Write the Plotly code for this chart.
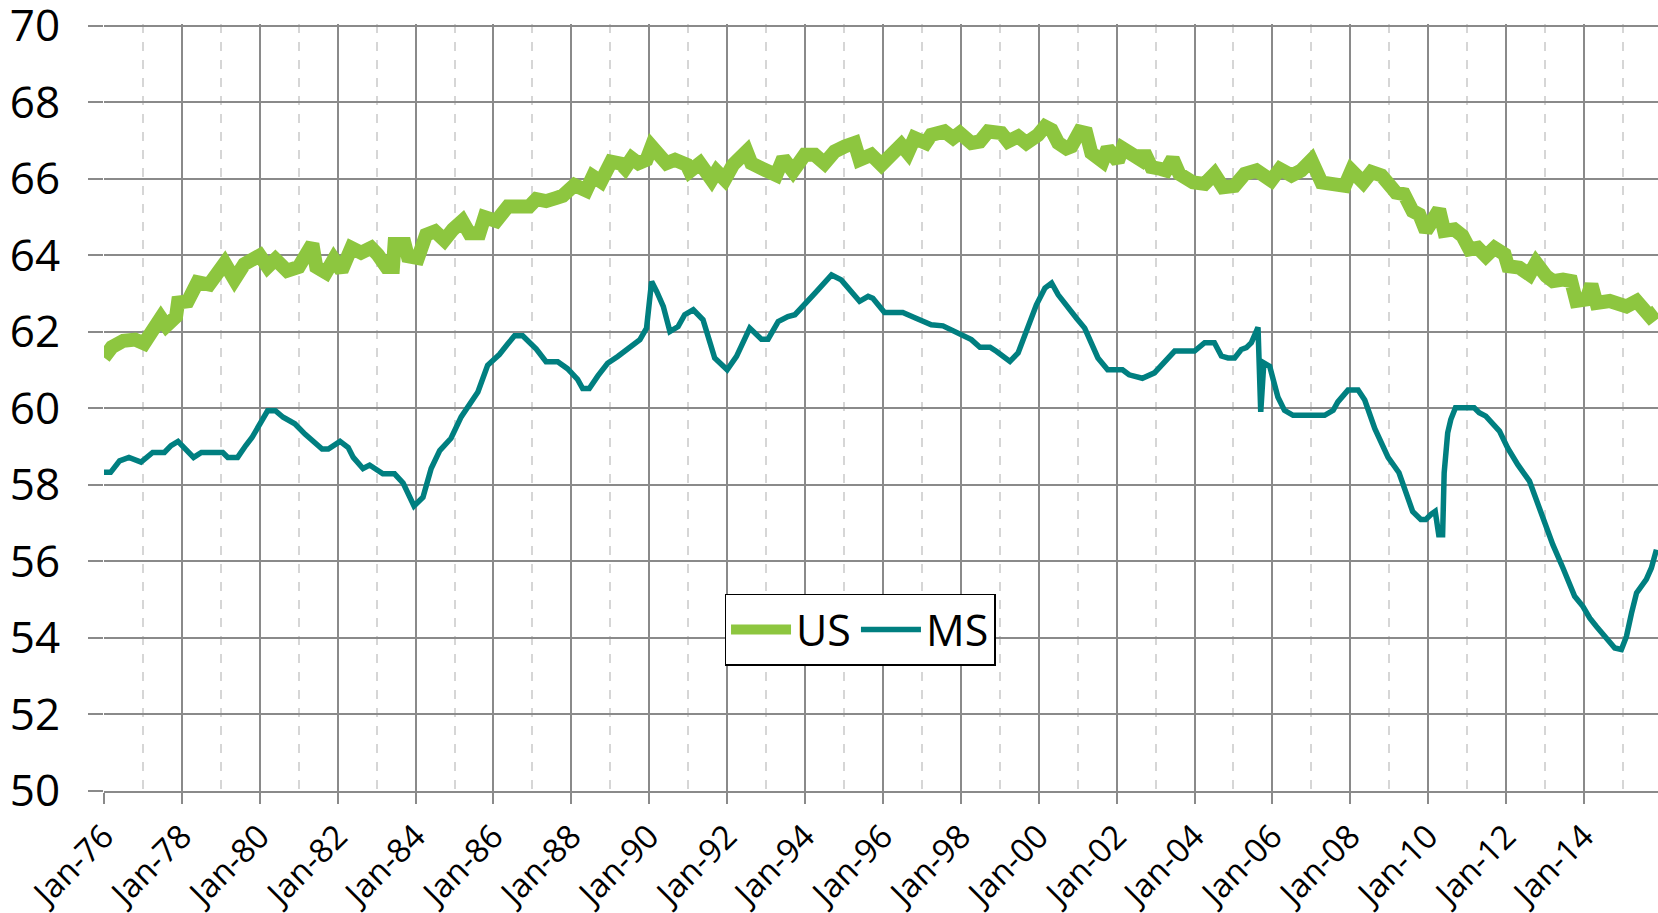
import plotly.graph_objects as go

# ---- data (decimal years) ----
us_years = [1976.0, 1976.2, 1976.5, 1976.8, 1977.03, 1977.25, 1977.46, 1977.6, 1977.85, 1977.9,
            1978.15, 1978.4, 1978.7, 1979.1, 1979.35, 1979.6, 1980.0, 1980.2, 1980.4, 1980.7,
            1981.0, 1981.35, 1981.45, 1981.7, 1981.9, 1982.1, 1982.35, 1982.6, 1982.86, 1983.03,
            1983.25, 1983.42, 1983.46, 1983.72, 1983.8, 1984.06, 1984.27, 1984.5, 1984.74, 1984.96,
            1985.2, 1985.38, 1985.64, 1985.77, 1986.07, 1986.37, 1986.62, 1986.92, 1987.1, 1987.35,
            1987.6, 1987.78, 1988.08, 1988.38, 1988.55, 1988.76, 1989.02, 1989.27, 1989.38, 1989.55,
            1989.72, 1989.93, 1990.06, 1990.19, 1990.44, 1990.66, 1990.96, 1991.04, 1991.3, 1991.6,
            1991.73, 1991.94, 1992.15, 1992.5, 1992.62, 1992.88, 1993.26, 1993.44, 1993.69, 1993.99,
            1994.25, 1994.5, 1994.76, 1995.02, 1995.27, 1995.4, 1995.7, 1995.96, 1996.2, 1996.47,
            1996.64, 1996.81, 1997.1, 1997.24, 1997.58, 1997.8, 1997.97, 1998.27, 1998.49, 1998.7,
            1999.04, 1999.21, 1999.47, 1999.68, 1999.98, 2000.16, 2000.33, 2000.5, 2000.71, 2000.84,
            2001.05, 2001.22, 2001.35, 2001.64, 2001.77, 2002.03, 2002.15, 2002.37, 2002.62, 2002.71,
            2002.89, 2003.14, 2003.27, 2003.44, 2003.61, 2003.96, 2004.26, 2004.51, 2004.73, 2005.03,
            2005.29, 2005.59, 2005.97, 2006.19, 2006.49, 2006.74, 2007.0, 2007.26, 2007.6, 2007.86,
            2008.03, 2008.33, 2008.54, 2008.8, 2009.06, 2009.17, 2009.38, 2009.6, 2009.77, 2009.94,
            2010.07, 2010.28, 2010.41, 2010.67, 2010.88, 2011.06, 2011.27, 2011.48, 2011.7, 2011.96,
            2012.05, 2012.34, 2012.6, 2012.77, 2013.03, 2013.2, 2013.46, 2013.67, 2013.8, 2014.06,
            2014.19, 2014.32, 2014.66, 2014.92, 2015.09, 2015.35, 2015.52, 2015.69, 2015.86]
us_values = [61.33, 61.6, 61.77, 61.8, 61.7, 62.0, 62.37, 62.16, 62.4, 62.77,
             62.8, 63.3, 63.24, 63.8, 63.37, 63.77, 64.0, 63.7, 63.9, 63.6,
             63.7, 64.3, 63.7, 63.55, 63.9, 63.6, 64.2, 64.07, 64.2, 64.02,
             63.7, 63.7, 64.3, 64.3, 63.98, 63.93, 64.54, 64.63, 64.4, 64.68,
             64.9, 64.58, 64.58, 65.0, 64.9, 65.28, 65.28, 65.28, 65.47, 65.42,
             65.5, 65.56, 65.84, 65.7, 66.07, 65.93, 66.45, 66.4, 66.28, 66.54,
             66.41, 66.5, 66.85, 66.68, 66.41, 66.5, 66.37, 66.2, 66.41, 65.98,
             66.2, 65.98, 66.37, 66.72, 66.41, 66.28, 66.1, 66.54, 66.2, 66.63,
             66.63, 66.41, 66.72, 66.85, 66.94, 66.5, 66.63, 66.37, 66.63, 66.89,
             66.68, 67.07, 66.94, 67.15, 67.24, 67.07, 67.2, 66.94, 66.98, 67.24,
             67.2, 66.98, 67.11, 66.94, 67.15, 67.37, 67.28, 66.94, 66.8, 66.85,
             67.24, 67.2, 66.68, 66.46, 66.8, 66.46, 66.8, 66.63, 66.5, 66.7,
             66.31, 66.26, 66.22, 66.53, 66.13, 65.91, 65.87, 66.13, 65.78, 65.82,
             66.13, 66.22, 65.96, 66.26, 66.09, 66.22, 66.49, 65.91, 65.82, 65.82,
             66.22, 65.91, 66.18, 66.09, 65.78, 65.64, 65.6, 65.16, 65.07, 64.64,
             64.85, 65.2, 64.64, 64.68, 64.51, 64.16, 64.2, 63.98, 64.2, 64.03,
             63.72, 63.68, 63.5, 63.81, 63.46, 63.33, 63.37, 63.33, 62.81, 62.85,
             63.24, 62.76, 62.81, 62.72, 62.67, 62.81, 62.63, 62.41, 62.54]

ms_years = [1976.0, 1976.17, 1976.4, 1976.64, 1976.95, 1977.25, 1977.55, 1977.72, 1977.9, 1978.3,
            1978.5, 1979.05, 1979.18, 1979.43, 1979.64, 1979.8, 1980.2, 1980.4, 1980.6, 1980.9,
            1981.16, 1981.6, 1981.76, 1982.06, 1982.27, 1982.4, 1982.65, 1982.82, 1983.16, 1983.46,
            1983.68, 1983.96, 1984.19, 1984.4, 1984.62, 1984.91, 1985.17, 1985.38, 1985.6, 1985.85,
            1986.15, 1986.37, 1986.54, 1986.75, 1987.1, 1987.35, 1987.65, 1987.9, 1988.16, 1988.29,
            1988.46, 1988.68, 1988.93, 1989.19, 1989.46, 1989.76, 1989.93, 1990.06, 1990.19, 1990.36,
            1990.53, 1990.74, 1990.91, 1991.13, 1991.38, 1991.68, 1992.0, 1992.24, 1992.58, 1992.88,
            1993.05, 1993.31, 1993.56, 1993.74, 1994.25, 1994.68, 1994.93, 1995.4, 1995.62, 1995.74,
            1996.04, 1996.51, 1996.85, 1997.06, 1997.24, 1997.54, 1997.76, 1997.97, 1998.27, 1998.49,
            1998.75, 1998.92, 1999.09, 1999.26, 1999.47, 1999.73, 1999.94, 2000.16, 2000.33, 2000.5,
            2000.71, 2000.97, 2001.18, 2001.3, 2001.52, 2001.77, 2002.15, 2002.32, 2002.66, 2002.97,
            2003.49, 2004.0, 2004.26, 2004.51, 2004.69, 2004.86, 2005.03, 2005.2, 2005.33, 2005.46,
            2005.63, 2005.7, 2005.78, 2005.93, 2006.14, 2006.31, 2006.53, 2007.34, 2007.56, 2007.68,
            2007.94, 2008.2, 2008.37, 2008.63, 2008.97, 2009.25, 2009.42, 2009.6, 2009.81, 2009.94,
            2010.07, 2010.18, 2010.27, 2010.37, 2010.41, 2010.5, 2010.58, 2010.7, 2011.18, 2011.31,
            2011.48, 2011.83, 2012.04, 2012.3, 2012.6, 2012.82, 2013.0, 2013.2, 2013.46, 2013.76,
            2013.97, 2014.15, 2014.32, 2014.58, 2014.79, 2014.96, 2015.09, 2015.22, 2015.35, 2015.6,
            2015.73, 2015.86]
ms_values = [58.33, 58.33, 58.63, 58.72, 58.6, 58.85, 58.85, 59.03, 59.14, 58.72,
             58.85, 58.85, 58.72, 58.72, 59.03, 59.24, 59.94, 59.94, 59.77, 59.6,
             59.33, 58.94, 58.94, 59.14, 58.98, 58.72, 58.43, 58.52, 58.29, 58.29,
             58.05, 57.45, 57.68, 58.43, 58.9, 59.22, 59.78, 60.1, 60.43, 61.13,
             61.41, 61.69, 61.9, 61.9, 61.55, 61.22, 61.22, 61.04, 60.76, 60.52,
             60.52, 60.85, 61.18, 61.36, 61.58, 61.8, 62.1, 63.32, 63.06, 62.67,
             62.01, 62.14, 62.45, 62.58, 62.32, 61.32, 61.01, 61.36, 62.1, 61.81,
             61.81, 62.27, 62.4, 62.45, 63.01, 63.49, 63.36, 62.8, 62.93, 62.88,
             62.51, 62.51, 62.36, 62.27, 62.19, 62.16, 62.06, 61.97, 61.8, 61.6,
             61.6, 61.49, 61.36, 61.23, 61.45, 62.1, 62.71, 63.15, 63.28, 62.97,
             62.67, 62.36, 62.1, 61.8, 61.32, 61.01, 61.01, 60.88, 60.79, 60.93,
             61.5, 61.5, 61.72, 61.72, 61.37, 61.32, 61.32, 61.54, 61.59, 61.72,
             62.12, 59.91, 61.19, 61.1, 60.3, 59.95, 59.82, 59.82, 59.95, 60.17,
             60.48, 60.48, 60.22, 59.47, 58.72, 58.32, 57.84, 57.31, 57.1, 57.1,
             57.23, 57.31, 56.7, 56.7, 58.32, 59.36, 59.71, 60.02, 60.02, 59.89,
             59.8, 59.41, 58.97, 58.53, 58.1, 57.49, 57.01, 56.44, 55.83, 55.09,
             54.83, 54.52, 54.3, 54.0, 53.74, 53.7, 54.04, 54.65, 55.18, 55.53,
             55.83, 56.31]

tick_years = list(range(1976, 2016, 2))
tick_labels = ["Jan-%02d" % (y % 100) for y in tick_years]
y_ticks = list(range(50, 71, 2))

US_COLOR = "#8DC63F"
MS_COLOR = "#007F80"
GRID = "#8a8a8a"
FONT = "Open Sans, Lato, DejaVu Sans, sans-serif"

fig = go.Figure()
fig.add_trace(go.Scatter(x=us_years, y=us_values, name="US", mode="lines",
                         line=dict(color=US_COLOR, width=14)))
fig.add_trace(go.Scatter(x=ms_years, y=ms_values, name="MS", mode="lines",
                         line=dict(color=MS_COLOR, width=5.5)))

fig.update_layout(
    width=1658, height=913,
    margin=dict(l=104, r=0, t=24, b=122, autoexpand=False),
    paper_bgcolor="white", plot_bgcolor="white",
    font=dict(family=FONT, color="black"),
    showlegend=True,
    legend=dict(orientation="h", x=0.4865, y=0.2105, xanchor="center", yanchor="middle",
                font=dict(size=43, family=FONT, color="black"),
                bgcolor="white", bordercolor="black", borderwidth=1.5,
                itemwidth=60),
    hovermode=False,
)
fig.update_xaxes(
    range=[1976, 2015.9],
    tickmode="array", tickvals=tick_years, ticktext=tick_labels,
    tickangle=-45, tickfont=dict(size=33, family=FONT, color="black"),
    ticks="outside", ticklen=11, tickwidth=2, tickcolor=GRID,
    showgrid=True, gridcolor=GRID, gridwidth=2,
    minor=dict(tickmode="linear", tick0=1977, dtick=2, showgrid=True,
               gridcolor="#d6d6d6", gridwidth=1.5, griddash="dash", ticks=""),
    showline=True, linecolor=GRID, linewidth=2,
    zeroline=False,
)
fig.update_yaxes(
    range=[50, 70.05], tickmode="array", tickvals=y_ticks,
    tickfont=dict(size=44, family=FONT, color="black"),
    ticks="outside", ticklen=15, tickwidth=2, tickcolor=GRID,
    ticklabelstandoff=19, ticklabeloverflow="allow",
    showgrid=True, gridcolor=GRID, gridwidth=2,
    showline=False, zeroline=False,
)

fig.write_html("out.html", config={"displayModeBar": False},
               post_script="document.body.style.margin='0';document.body.style.padding='0';")
